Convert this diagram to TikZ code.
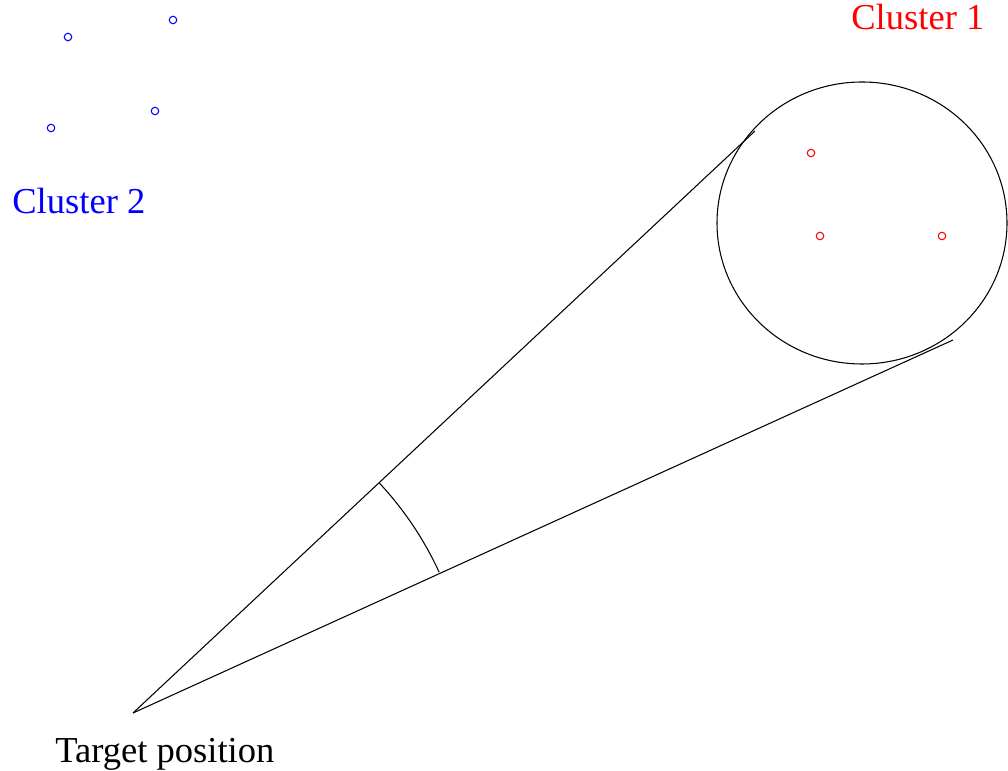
\documentclass[tikz,border=0pt]{standalone}
\usepackage{fontspec}
\setmainfont{Liberation Serif}
\usepackage{xcolor}
\usepackage{tikz}
\usetikzlibrary{positioning,calc}
\definecolor{clustred}{HTML}{FF0000}
\definecolor{clustblue}{HTML}{0000FF}
\tikzset{
  lbl/.style={anchor=base west,inner sep=0pt,font=\fontsize{20.8}{24}\selectfont},
  pt/.style={draw,line width=0.6pt,inner sep=0pt,minimum size=0.15cm,circle},
  edge/.style={draw=black,line width=0.6pt}
}
\begin{document}
\begin{tikzpicture}[x=0.02cm,y=0.02cm]
  \useasboundingbox (0,0) rectangle (1008,771);
  \coordinate (t) at (133,58);
  \coordinate (u) at (755,640);
  \coordinate (l) at (953,431);
  \coordinate (c) at (862,548);
  % cone from the target to cluster 1
  \draw[edge] (c) ellipse[x radius=145,y radius=141];
  \draw[edge] (t) -- (u);
  \draw[edge] (t) -- (l);
  \draw[edge] (t) ++(43.1:337) arc[start angle=43.1,end angle=24.7,radius=337];
  % cluster members
  \foreach \x/\y [count=\i] in {811/618,820/535,942/535}{\node[pt,clustred] (r\i) at (\x,\y) {};}
  \foreach \x/\y [count=\i] in {68/734,173/751,155/660,51/643}{\node[pt,clustblue] (b\i) at (\x,\y) {};}
  \node[lbl,clustred] (c1) at (851,741) {Cluster 1};
  \node[lbl,clustblue] (c2) at (12,557) {Cluster 2};
  \node[lbl] (tp) at (55,8) {Target position};
\end{tikzpicture}
\end{document}
